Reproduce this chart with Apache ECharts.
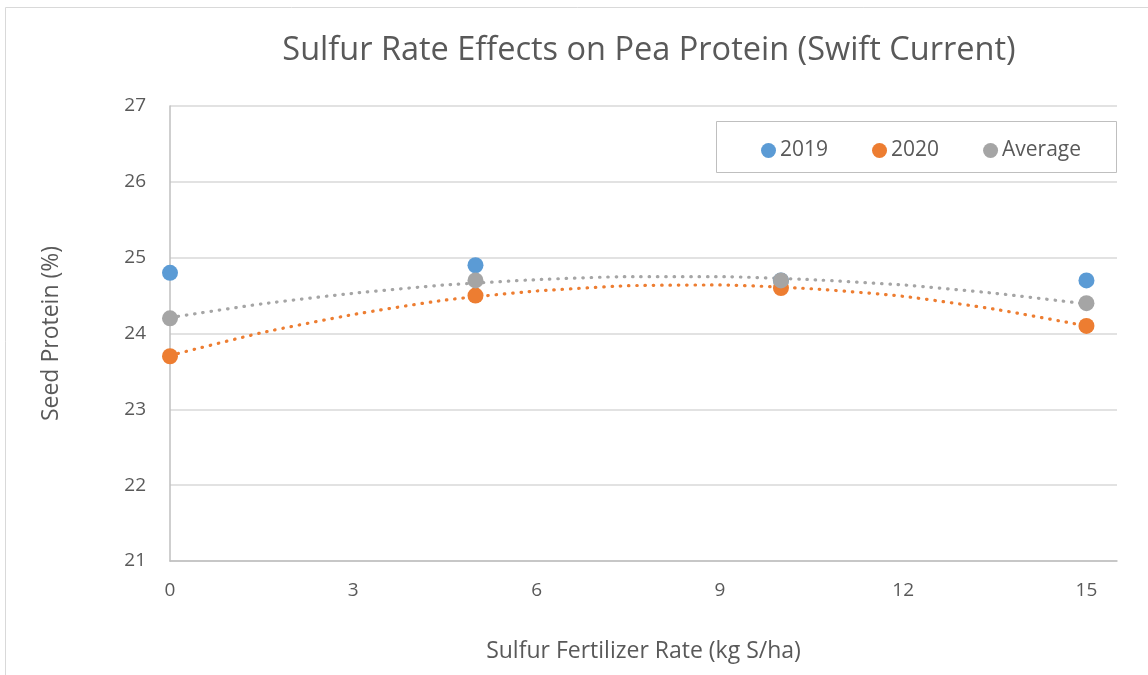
<!DOCTYPE html>
<html>
<head>
<meta charset="utf-8">
<script src="https://cdn.jsdelivr.net/npm/echarts@6/dist/echarts.min.js"></script>
<style>
  html, body { margin: 0; padding: 0; background: #fff; }
  #chart { width: 1148px; height: 675px; }
</style>
</head>
<body>
<div id="chart"></div>
<script>
// sulfur rate (kg S/ha)
const rates = [0, 5, 10, 15]
const protein2019 = [24.8, 24.9, 24.7, 24.7]
const protein2020 = [23.7, 24.5, 24.6, 24.1]
const proteinAvg = [24.2, 24.7, 24.7, 24.4]

// polynomial trendlines
const trendX = [0, 1.5, 3, 4.5, 6, 7.5, 9, 10.5, 12, 13.5, 15]
const trend2020 = [23.71, 24.01, 24.25, 24.44, 24.56, 24.63, 24.64, 24.59, 24.49, 24.32, 24.1]
const trendAvg = [24.21, 24.39, 24.53, 24.64, 24.71, 24.75, 24.75, 24.71, 24.64, 24.53, 24.39]

const yTicks = [21, 22, 23, 24, 25, 26, 27]

const C2019 = '#5B9BD5'
const C2020 = '#ED7D31'
const CAVG = '#A5A5A5'
const textColor = '#595959'
const font = '"Open Sans", "Noto Sans", sans-serif'

const zip = (xs, ys) => xs.map((x, i) => [x, ys[i]])

const chart = echarts.init(document.getElementById('chart'))

chart.setOption({
  animation: false,
  textStyle: { fontFamily: font, color: textColor },
  title: {
    text: 'Sulfur Rate Effects on Pea Protein (Swift Current)',
    left: 644,
    top: 29,
    textAlign: 'center',
    textStyle: { fontSize: 32.5, fontWeight: 'normal', color: textColor, fontFamily: font },
  },
  graphic: [
    {
      type: 'rect',
      shape: { x: 5.5, y: 7.5, width: 1300, height: 900 },
      style: { fill: 'none', stroke: '#D9D9D9', lineWidth: 1 },
      silent: true,
    },
    {
      type: 'rect',
      shape: { x: 716.5, y: 121.5, width: 400, height: 51 },
      style: { fill: '#fff', stroke: '#BFBFBF', lineWidth: 1 },
      z: 10,
      silent: true,
    },
  ],
  legend: {
    data: ['2019', '2020', 'Average'],
    left: 756,
    top: 135,
    z: 20,
    icon: 'circle',
    itemWidth: 15,
    itemHeight: 15,
    itemGap: 44,
    textStyle: { fontSize: 21, color: textColor, fontFamily: font, padding: [0, 0, 0, -1] },
  },
  grid: { left: 170, right: 31, top: 106, bottom: 114 },
  xAxis: {
    type: 'value',
    min: 0,
    max: 15.5,
    interval: 3,
    name: 'Sulfur Fertilizer Rate (kg S/ha)',
    nameLocation: 'middle',
    nameGap: 79,
    nameTextStyle: { fontSize: 23, color: textColor, fontFamily: font },
    axisLine: { show: true, lineStyle: { color: '#BFBFBF', width: 1.5 } },
    axisTick: { show: false },
    splitLine: { show: false },
    axisLabel: { showMaxLabel: false, margin: 20, fontSize: 19, color: textColor, fontFamily: font },
  },
  yAxis: {
    type: 'value',
    min: yTicks[0],
    max: yTicks[yTicks.length - 1],
    interval: 1,
    name: 'Seed Protein (%)',
    nameLocation: 'middle',
    nameGap: 107,
    nameTextStyle: { fontSize: 23, color: textColor, fontFamily: font },
    axisLine: { show: true, lineStyle: { color: '#BFBFBF', width: 1.5 } },
    axisTick: { show: false },
    splitLine: { show: true, lineStyle: { color: '#D9D9D9', width: 1.5 } },
    axisLabel: { margin: 24, fontSize: 19, color: textColor, fontFamily: font },
  },
  series: [
    {
      name: '2019',
      type: 'scatter',
      data: zip(rates, protein2019),
      symbolSize: 16,
      itemStyle: { color: C2019, opacity: 1 },
      z: 3,
    },
    {
      name: '2020',
      type: 'scatter',
      data: zip(rates, protein2020),
      symbolSize: 16,
      itemStyle: { color: C2020, opacity: 1 },
      z: 4,
    },
    {
      name: 'Average',
      type: 'scatter',
      data: zip(rates, proteinAvg),
      symbolSize: 16,
      itemStyle: { color: CAVG, opacity: 1 },
      z: 5,
    },
    {
      name: 'trend2020',
      type: 'line',
      data: zip(trendX, trend2020),
      smooth: 0.2,
      symbol: 'none',
      lineStyle: { color: C2020, width: 3.2, type: [0.5, 7.8], cap: 'round' },
      z: 2,
    },
    {
      name: 'trendAvg',
      type: 'line',
      data: zip(trendX, trendAvg),
      smooth: 0.2,
      symbol: 'none',
      lineStyle: { color: CAVG, width: 3.2, type: [0.5, 7.8], cap: 'round' },
      z: 2,
    },
  ],
})
</script>
</body>
</html>
